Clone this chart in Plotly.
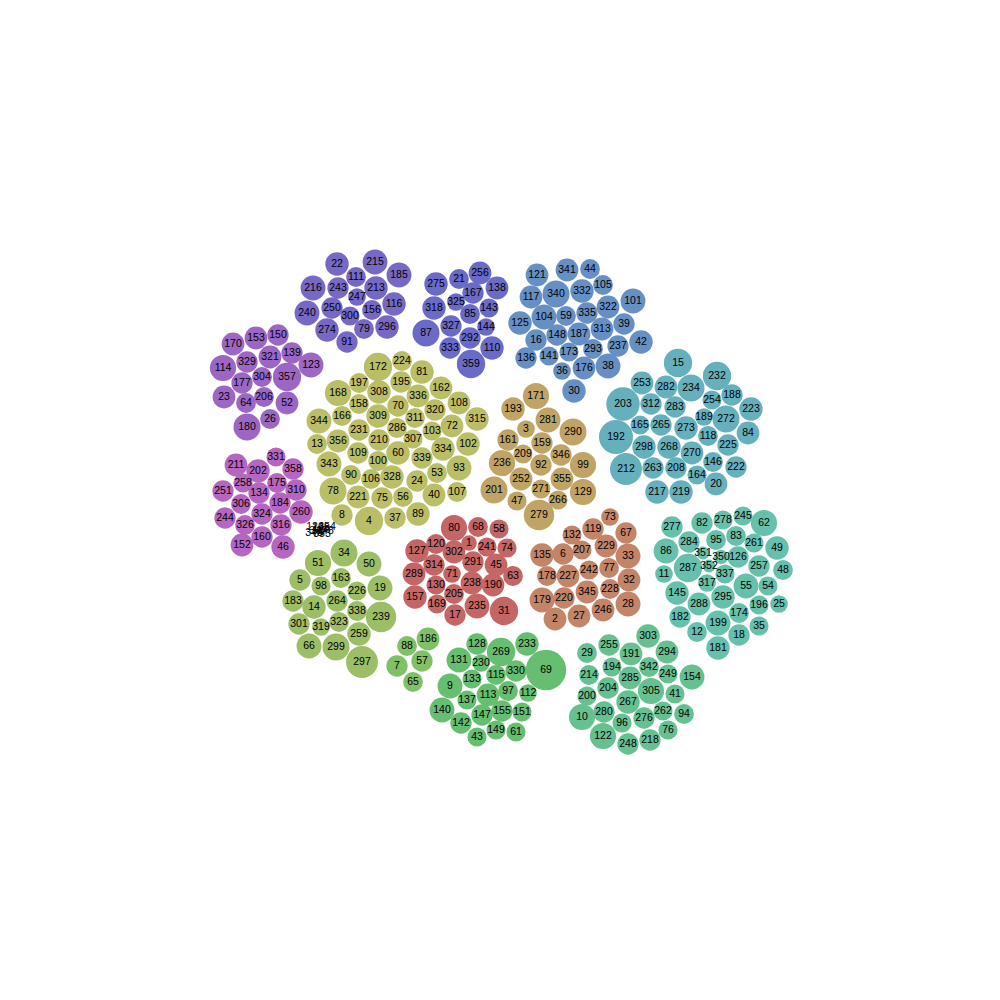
import plotly.graph_objects as go

# ---- data: each cluster = labels, x, y (chart units), bubble value (radius units)
g_purple_labels = [22,215,185,216,111,243,213,247,116,240,250,300,156,274,79,296,91]
g_purple_x = [337,375,399,313,356,338,376,357,394,307,332,350,372,327,364,387,347]
g_purple_y = [264,262,275,288,277,288,288,297,304,313,308,316,310,330,329,327,342]
g_purple_v = [11,11.7,11.7,11.7,9.3,10,11,8.3,11,11.7,10,9,9.3,11,9.3,11,10]

g_indigo_labels = [275,21,256,318,325,167,138,85,143,87,327,144,292,333,110,359]
g_indigo_x = [436,459,480,434,456,473,497,470,489,426,451,486,470,450,492,471]
g_indigo_y = [284,279,273,308,302,293,288,314,308,333,326,327,338,348,348,364]
g_indigo_v = [11,9.3,10.7,11,8.3,10,10.7,9.3,9,12.7,10,8.3,10,10,11,13.3]

g_steel_labels = [121,341,44,117,340,332,105,101,125,104,59,335,322,39,16,148,187,313,42,237,136,141,173,293,36,176,38,30]
g_steel_x = [537,567,590,531,556,582,603,633,520,544,566,587,608,624,536,557,579,602,641,618,526,549,569,593,562,584,608,574]
g_steel_y = [275,270,269,297,294,291,285,301,323,317,316,313,307,324,340,335,334,329,342,346,358,356,352,349,371,368,366,391]
g_steel_v = [10.7,10.7,9.3,10.7,12.7,11,9.3,11.7,11,11.7,9.3,10,10.7,10,10,10,10.7,10.7,11,10,10,9,9,9.3,8.3,10.7,11.7,11]

g_cyan_labels = [15,253,282,234,232,203,312,283,254,188,223,192,165,265,273,189,272,84,118,225,298,268,270,146,222,212,263,208,164,20,217,219]
g_cyan_x = [678,642,666,691,717,623,651,675,712,732,751,616,640,661,686,704,726,748,708,728,644,669,692,713,736,626,653,676,697,716,657,681]
g_cyan_y = [363,383,387,388,376,404,404,407,400,395,409,437,425,425,428,417,419,433,436,445,447,447,453,462,467,469,468,468,475,484,492,492]
g_cyan_v = [13.3,10.7,10.7,12.7,13.3,15.7,10,10,9,10,11,16,9,10,11,8.3,12.7,10.7,9.3,10,11,11,10.7,9.3,10,15,10,10,9,10.7,11,11]

g_violet_labels = [170,153,150,114,329,321,139,123,177,304,357,23,64,206,52,180,26]
g_violet_x = [233,256,278,223,247,270,292,311,242,262,287,224,246,264,287,247,270]
g_violet_y = [344,338,335,368,362,357,353,365,383,377,377,397,403,397,403,427,419]
g_violet_v = [10.7,10.7,10,12.3,10,10.7,10,11.7,10,9.3,13.3,10.7,9.3,9.3,10.7,12.7,9.3]

g_olive_labels = [172,224,81,197,308,195,168,336,162,158,70,108,320,344,166,309,311,315,72,231,286,103,13,356,210,307,102,334,60,109,339,343,100,93,90,328,106,53,24,78,221,75,56,40,107,8,4,37,89]
g_olive_x = [378,402,422,359,379,401,338,418,441,359,398,459,435,319,342,378,415,477,452,359,397,432,317,338,379,413,468,443,398,358,422,329,378,459,351,392,371,437,417,333,358,382,403,434,457,342,369,395,418]
g_olive_y = [367,361,372,383,392,382,393,396,388,404,406,403,410,421,416,416,418,419,426,430,428,431,444,441,440,439,444,449,453,453,458,464,461,468,475,477,479,473,481,491,497,498,497,495,492,515,521,518,514]
g_olive_v = [13.3,9.3,11,9.3,11,10,12.3,10.7,10.7,9.3,10,10.7,10,11.7,9.3,11,9.3,11,10.7,10,9.3,9,9.3,10.7,10,9,11,11,11,10,10,11.7,9.3,11.7,9.3,11,9.3,9.3,10,12.7,10.7,10,9.3,10.7,9.3,10,13.3,10,11]

g_tan_labels = [171,193,281,3,290,161,159,209,346,236,92,99,252,355,201,271,129,47,266,279]
g_tan_x = [536,513,548,526,573,508,542,523,561,502,541,583,521,562,494,541,583,517,558,539]
g_tan_y = [396,409,420,429,432,440,443,454,455,463,465,465,479,479,490,489,492,501,500,515]
g_tan_v = [12.3,11,11.7,8.3,12.7,10,10,9,10,12.3,10,12.3,10.7,10.7,12.7,9,12.3,9,9,14.3]

g_magenta_labels = [331,211,202,358,258,175,251,134,310,306,184,260,324,244,326,316,160,152,46]
g_magenta_x = [276,236,258,293,243,277,223,259,296,241,280,301,262,225,245,281,262,242,283]
g_magenta_y = [457,465,471,469,483,483,491,493,490,504,503,512,514,518,525,525,537,545,547]
g_magenta_v = [9,10.7,11,10,9,9.3,10,10,10,9.3,10,11,10,10,9.3,10,10,10.7,11]

g_red_labels = [80,68,58,120,1,241,74,127,302,291,45,314,289,71,63,238,190,130,205,157,235,31,169,17]
g_red_x = [454,478,499,436,469,487,507,417,454,473,496,434,414,452,513,472,493,436,454,415,477,504,437,455]
g_red_y = [528,527,529,544,543,547,548,551,552,562,565,565,574,574,576,583,585,585,594,597,606,611,604,615]
g_red_v = [12.3,9.3,9,9.3,7.3,9,9,11,10.7,10,10.7,10,10.7,8.3,9.3,10.7,10.7,9,9.3,11,11.7,13.3,9,10]

g_copper_labels = [73,132,119,67,135,6,207,229,33,178,227,242,77,32,179,220,345,228,28,2,27,246]
g_copper_x = [610,572,593,626,542,563,582,606,628,547,568,589,609,629,542,564,587,610,628,555,579,603]
g_copper_y = [517,535,529,533,555,554,550,546,556,576,576,570,568,580,600,598,592,589,604,619,616,610]
g_copper_v = [8.3,9,10,10,11,10,9,10.7,11.7,9.3,10.7,9,9.3,10.7,11.7,10,10.7,9.3,11.7,10.7,10.7,10.7]

g_aqua_labels = [277,82,278,245,62,86,284,95,83,261,49,351,350,126,287,352,11,257,48,337,317,55,54,145,295,288,196,25,182,174,199,35,12,18,181]
g_aqua_x = [672,702,723,743,764,666,689,716,736,754,777,703,721,738,688,709,664,759,783,725,707,746,768,677,723,699,759,779,680,739,718,759,697,739,718]
g_aqua_y = [527,523,520,516,523,551,542,540,536,543,548,553,557,557,568,566,574,566,570,574,583,586,586,593,597,604,605,604,617,613,623,626,632,635,648]
g_aqua_v = [10,10,9,9,12.3,11.7,10,9.3,9.3,9,11,6,6.7,10,13.3,6,8.3,10,9.3,9,8.3,11.7,9,11,11,10.7,9,8.3,10,9.3,11.7,9,9.3,10,11]

g_lime_labels = [34,51,50,5,163,98,19,226,183,14,264,338,239,301,319,323,259,66,299,297]
g_lime_x = [344,318,369,300,341,321,380,357,293,314,337,357,381,299,321,339,359,309,336,362]
g_lime_y = [553,563,564,580,578,586,588,591,601,607,601,611,617,624,627,622,634,646,647,662]
g_lime_v = [12.7,12.3,11.7,10,9.3,9,11.7,9,10,11,10,9.3,14.3,10,8.3,9.3,11,11.7,12.7,15]

g_leaf_labels = [88,186,57,7,65]
g_leaf_x = [407,428,422,397,413]
g_leaf_y = [646,639,661,666,682]
g_leaf_v = [9.3,10.7,10,10,9.3]

g_green_labels = [128,233,269,131,230,69,330,115,133,9,97,112,113,137,140,155,151,147,142,149,61,43]
g_green_x = [477,527,501,459,481,546,516,496,472,450,508,528,488,467,442,502,522,482,461,496,516,477]
g_green_y = [644,644,652,660,663,670,671,675,679,686,691,693,695,700,710,711,712,715,723,730,732,737]
g_green_v = [10,11,13.3,11.7,8.3,19,10,9.3,9,11.7,9.3,8.3,10.7,9,11.7,10,9,10,10,9,9,9]

g_jade_labels = [303,29,255,191,294,194,342,214,285,249,154,204,305,41,200,267,262,94,10,280,276,96,76,122,218,248]
g_jade_x = [648,587,609,631,667,612,649,589,630,668,692,608,651,675,587,628,663,684,582,604,644,622,668,603,650,628]
g_jade_y = [636,653,645,654,652,667,667,675,678,674,677,688,691,694,696,702,711,714,717,712,718,723,730,736,740,744]
g_jade_v = [11,9.3,10,10.7,10.7,9,9.3,9.3,10.7,9,11.7,10,12.3,9,9,11,9,9.3,12.3,10,10,9,9,12.3,10,10]

g_tiny_labels = [124,198,347,348,349,353,354]
g_tiny_x = [315,321,318,325,314,322,327]
g_tiny_y = [527,528,531,531,533,534,527]
g_tiny_v = [1.5,1.5,1.5,1.5,1.5,1.5,1.5]

# ---- styles
groups = [
    (g_purple_labels, g_purple_x, g_purple_y, g_purple_v, "#7868C6"),
    (g_indigo_labels, g_indigo_x, g_indigo_y, g_indigo_v, "#6A6AC8"),
    (g_steel_labels, g_steel_x, g_steel_y, g_steel_v, "#6690C4"),
    (g_cyan_labels, g_cyan_x, g_cyan_y, g_cyan_v, "#66B0BE"),
    (g_violet_labels, g_violet_x, g_violet_y, g_violet_v, "#9C66C4"),
    (g_olive_labels, g_olive_x, g_olive_y, g_olive_v, "#BABE66"),
    (g_tan_labels, g_tan_x, g_tan_y, g_tan_v, "#C0A466"),
    (g_magenta_labels, g_magenta_x, g_magenta_y, g_magenta_v, "#B666C0"),
    (g_red_labels, g_red_x, g_red_y, g_red_v, "#C46666"),
    (g_copper_labels, g_copper_x, g_copper_y, g_copper_v, "#C48468"),
    (g_aqua_labels, g_aqua_x, g_aqua_y, g_aqua_v, "#66C0AC"),
    (g_lime_labels, g_lime_x, g_lime_y, g_lime_v, "#9CBE66"),
    (g_leaf_labels, g_leaf_x, g_leaf_y, g_leaf_v, "#80C066"),
    (g_green_labels, g_green_x, g_green_y, g_green_v, "#66BE70"),
    (g_jade_labels, g_jade_x, g_jade_y, g_jade_v, "#66C090"),
    (g_tiny_labels, g_tiny_x, g_tiny_y, g_tiny_v, "#333333"),
]

PAGE_OFFSET = 8  # browser body margin
FIG_W = 1000 - 2 * PAGE_OFFSET

fig = go.Figure()
for labels, xs, ys, vals, color in groups:
    fig.add_trace(go.Scatter(
        x=xs, y=ys,
        mode="markers+text",
        text=[str(l) for l in labels],
        textposition="middle center",
        textfont=dict(family="Liberation Sans, Arial, sans-serif", size=10.5, color="#000000"),
        marker=dict(size=vals, sizemode="diameter", sizeref=0.47, color=color,
                    opacity=1, line=dict(width=0)),
        hoverinfo="text",
        showlegend=False,
    ))

fig.update_layout(
    width=FIG_W, height=FIG_W, autosize=False,
    margin=dict(l=0, r=0, t=0, b=0),
    paper_bgcolor="white", plot_bgcolor="white",
    xaxis=dict(range=[PAGE_OFFSET, PAGE_OFFSET + FIG_W], visible=False, fixedrange=True),
    yaxis=dict(range=[PAGE_OFFSET + FIG_W, PAGE_OFFSET], visible=False, fixedrange=True),
    showlegend=False,
)

fig.write_html("out.html", config={"displayModeBar": False})
